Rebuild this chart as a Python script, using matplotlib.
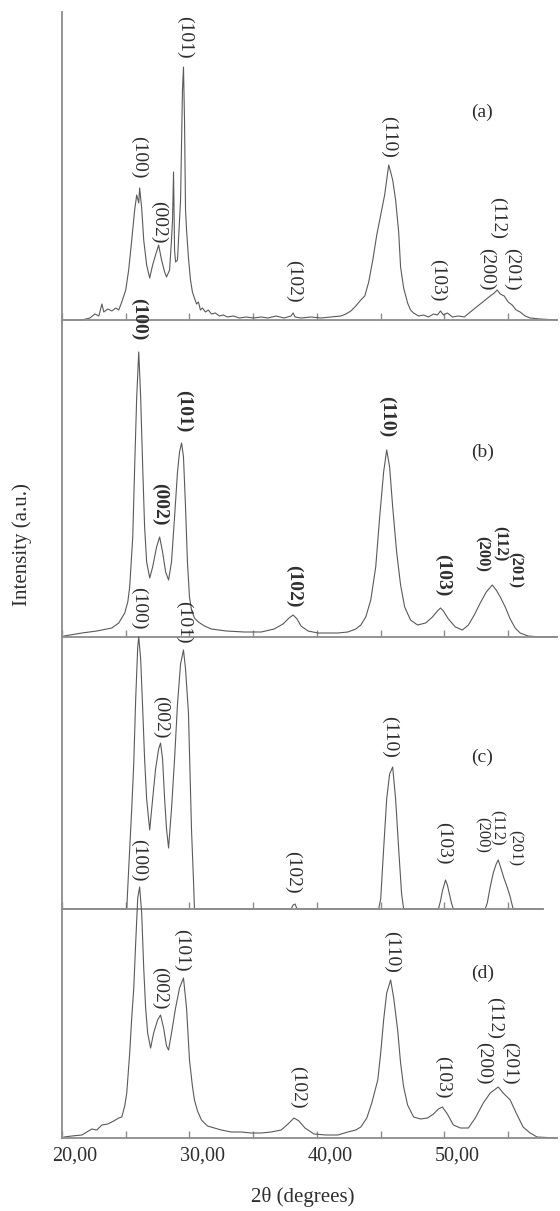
import matplotlib
matplotlib.use('Agg')
import matplotlib.pyplot as plt
import matplotlib.transforms as mtrans
from matplotlib.ticker import MultipleLocator, FuncFormatter

plt.rcParams['font.family'] = ['Liberation Serif', 'DejaVu Serif']

# 2theta (degrees) and intensity (a.u.)
a_tt = [20.16, 21.56, 22.19, 22.58, 22.89, 23.13, 23.28, 23.59, 23.91, 24.22, 24.45, 24.69,
        25.00, 25.23, 25.47, 25.70, 25.86, 26.02, 26.09, 26.25, 26.41, 26.64, 26.88, 27.11,
        27.34, 27.58, 27.81, 28.05, 28.20, 28.44, 28.59, 28.67, 28.75, 28.83, 28.91, 29.06,
        29.30, 29.45, 29.53, 29.61, 29.69, 29.77, 29.92, 30.08, 30.23, 30.39, 30.55, 30.70,
        30.86, 31.02, 31.25, 31.48, 31.72, 32.03, 32.34, 32.66, 32.97, 33.44, 33.91, 34.45,
        35.00, 35.63, 36.17, 36.80, 37.42, 37.97, 38.13, 38.28, 38.75, 39.53, 40.31, 41.09,
        41.88, 42.27, 42.66, 43.05, 43.44, 43.75, 44.06, 44.38, 44.69, 45.00, 45.31, 45.47,
        45.63, 45.78, 45.94, 46.17, 46.41, 46.56, 46.80, 47.11, 47.34, 47.58, 47.97, 48.36,
        48.75, 49.14, 49.45, 49.69, 49.92, 50.23, 50.63, 51.09, 51.56, 52.03, 52.42, 52.81,
        53.20, 53.59, 53.91, 54.14, 54.38, 54.69, 55.00, 55.31, 55.63, 55.94, 56.33, 56.72,
        57.50, 58.83]
a_int = [0, 0, 2, 6, 4, 16, 8, 11, 9, 12, 10, 18,
         30, 50, 80, 110, 125, 117, 132, 112, 80, 55, 42, 55,
         65, 75, 60, 48, 43, 50, 80, 100, 148, 70, 58, 60,
         120, 230, 253, 200, 110, 90, 62, 40, 28, 22, 16, 18,
         10, 12, 8, 10, 6, 7, 4, 5, 3, 4, 2, 3,
         2, 3, 2, 4, 2, 4, 7, 3, 2, 3, 2, 3,
         4, 6, 9, 14, 20, 24, 38, 60, 85, 105, 125, 140,
         155, 148, 140, 120, 88, 53, 32, 17, 10, 7, 4, 5,
         3, 6, 5, 9, 5, 7, 3, 4, 3, 8, 12, 16,
         20, 24, 27, 30, 26, 24, 18, 15, 10, 8, 4, 2,
         1, 0]

b_tt = [20.16, 21.56, 22.73, 23.91, 24.45, 24.92, 25.16, 25.31, 25.55, 25.70, 25.86, 26.02,
        26.17, 26.33, 26.48, 26.64, 26.88, 27.11, 27.42, 27.66, 27.89, 28.13, 28.36, 28.59,
        28.83, 29.06, 29.22, 29.38, 29.53, 29.69, 29.84, 30.00, 30.16, 30.39, 30.70, 31.17,
        31.72, 32.89, 34.30, 35.63, 36.64, 37.34, 37.81, 38.13, 38.44, 38.75, 39.30, 40.08,
        40.86, 41.64, 42.42, 43.05, 43.44, 43.83, 44.22, 44.61, 44.92, 45.23, 45.47, 45.70,
        45.94, 46.25, 46.56, 46.88, 47.34, 47.89, 48.52, 49.06, 49.45, 49.69, 49.92, 50.31,
        50.86, 51.41, 51.88, 52.34, 52.81, 53.28, 53.75, 54.06, 54.38, 54.77, 55.16, 55.55,
        55.94, 56.56, 57.50, 58.83]
b_int = [1, 4, 6, 9, 14, 24, 35, 50, 100, 170, 240, 285,
         240, 170, 110, 75, 59, 70, 90, 100, 85, 65, 57, 75,
         120, 165, 185, 194, 180, 130, 75, 40, 27, 19, 15, 11,
         8, 6, 5, 5, 8, 13, 19, 22, 18, 11, 6, 4,
         4, 4, 5, 8, 12, 20, 37, 70, 120, 165, 187, 170,
         130, 85, 52, 30, 17, 12, 14, 20, 26, 29, 26, 18,
         10, 7, 12, 22, 34, 45, 52, 47, 40, 30, 18, 9,
         4, 1, 0, 0]

c_tt = [20.16, 25.08, 25.23, 25.47, 25.63, 25.78, 25.94, 26.02, 26.17, 26.33, 26.48, 26.64,
        26.88, 27.11, 27.34, 27.58, 27.73, 27.89, 28.05, 28.20, 28.36, 28.59, 28.83, 29.06,
        29.30, 29.53, 29.69, 29.92, 30.16, 30.31, 30.39, 37.97, 38.13, 38.28, 38.44, 44.84,
        45.00, 45.23, 45.47, 45.70, 45.94, 46.17, 46.41, 46.64, 46.80, 49.53, 49.69, 49.84,
        50.00, 50.08, 50.23, 50.39, 50.55, 50.70, 53.20, 53.36, 53.59, 53.83, 54.06, 54.22,
        54.45, 54.69, 54.92, 55.16, 55.39, 57.73]
c_int = [0, 0, 40, 100, 146, 210, 262, 272, 250, 200, 150, 110,
         79, 110, 140, 160, 166, 150, 110, 80, 61, 100, 150, 205,
         245, 259, 240, 196, 79, 30, 0, 0, 4, 5, 0, 0,
         10, 60, 110, 135, 142, 110, 60, 15, 0, 0, 8, 18,
         25, 29, 24, 15, 6, 0, 0, 6, 22, 36, 45, 49,
         40, 30, 22, 12, 0, 0]

d_tt = [20.16, 20.78, 21.56, 22.34, 22.73, 23.13, 23.59, 24.06, 24.45, 24.69, 24.92, 25.08,
        25.31, 25.47, 25.63, 25.78, 25.94, 26.09, 26.25, 26.41, 26.56, 26.72, 26.95, 27.19,
        27.50, 27.73, 27.97, 28.20, 28.36, 28.59, 28.91, 29.22, 29.53, 29.77, 30.00, 30.23,
        30.39, 30.63, 30.94, 31.41, 31.95, 32.50, 33.28, 34.06, 34.84, 35.63, 36.41, 37.19,
        37.73, 38.20, 38.59, 39.06, 39.77, 40.70, 41.64, 42.42, 43.05, 43.44, 43.91, 44.30,
        44.77, 45.00, 45.23, 45.47, 45.78, 46.02, 46.33, 46.56, 46.80, 47.11, 47.58, 48.13,
        48.67, 49.14, 49.53, 49.84, 50.23, 50.70, 51.25, 51.88, 52.42, 53.05, 53.59, 54.22,
        54.61, 55.16, 55.63, 56.17, 56.72, 57.27, 58.83]
d_int = [1, 2, 3, 9, 8, 13, 14, 17, 20, 21, 32, 45,
         85, 120, 150, 195, 240, 251, 225, 170, 130, 105, 90, 105,
         118, 123, 110, 92, 88, 105, 130, 150, 160, 130, 78, 52,
         38, 27, 18, 12, 10, 8, 6, 6, 5, 5, 6, 8,
         14, 20, 17, 10, 4, 3, 3, 6, 8, 11, 20, 35,
         58, 85, 118, 145, 158, 140, 108, 75, 51, 33, 21, 19,
         20, 24, 29, 31, 24, 13, 10, 10, 20, 35, 45, 51,
         45, 38, 25, 11, 5, 1, 0]

hkl = ['(100)', '(002)', '(101)', '(102)', '(110)', '(103)', '(200)', '(112)', '(201)']
a_lab_x = [26.02, 27.58, 29.61, 38.20, 45.63, 49.45, 53.36, 54.22, 55.31]
a_lab_y = [163, 98, 283, 39, 183, 40, 51, 102, 51]
b_lab_x = [26.02, 27.66, 29.53, 38.20, 45.47, 49.84, 52.90, 54.38, 55.50]
b_lab_y = [318, 133, 226, 51, 220, 62, 83, 93, 67]
c_lab_x = [26.02, 27.73, 29.53, 38.13, 45.70, 49.92, 52.95, 54.14, 55.55]
c_lab_y = [301, 192, 287, 37, 172, 66, 74, 81, 61]
d_lab_x = [26.02, 27.66, 29.38, 38.52, 45.86, 49.84, 53.05, 53.98, 55.16]
d_lab_y = [278, 150, 188, 51, 186, 61, 75, 120, 75]

tags = ['(a)', '(b)', '(c)', '(d)']
tag_x = 52.97
tag_y = [208, 185, 152, 165]

# panel heights in the same units as the intensities
heights = [308, 317, 272, 229]

W, H = 560, 1211
fig = plt.figure(figsize=(W / 100, H / 100), dpi=100)

line_col = '#5a5a5a'
spine_col = '#8c8c8c'
text_col = '#2e2e2e'

curves = [(a_tt, a_int), (b_tt, b_int), (c_tt, c_int), (d_tt, d_int)]
labels = [(a_lab_x, a_lab_y), (b_lab_x, b_lab_y), (c_lab_x, c_lab_y), (d_lab_x, d_lab_y)]

top = H - 12
axes = []
for i in range(4):
    bottom = top - heights[i]
    ax = fig.add_axes([62 / W, bottom / H, 495 / W, heights[i] / H])
    ax.set_facecolor('none')
    ax.set_xlim(20, 58.83)
    ax.set_ylim(0, heights[i])
    ax.plot(curves[i][0], curves[i][1], color=line_col, lw=0.8, clip_on=False)
    for sp in ['top', 'right']:
        ax.spines[sp].set_visible(False)
    for sp in ['left', 'bottom']:
        ax.spines[sp].set_color(spine_col)
        ax.spines[sp].set_linewidth(1.3)
    ax.set_yticks([])
    ax.xaxis.set_major_locator(MultipleLocator(10))
    ax.xaxis.set_minor_locator(MultipleLocator(5))
    ax.tick_params(axis='x', which='both', direction='in', length=5, width=1,
                   color=spine_col, labelbottom=(i == 3))
    fw = 'bold' if i == 1 else 'normal'
    for k, (t, x, y) in enumerate(zip(hkl, labels[i][0], labels[i][1])):
        fs = 14
        if k >= 6 and i in (1, 2):
            fs = 12  # the crowded (200)/(112)/(201) group
        ax.text(x, y, t, rotation=270, ha='center', va='center', fontsize=fs,
                color=text_col, fontweight=fw)
    ax.text(tag_x, tag_y[i], tags[i], ha='center', va='center', fontsize=14, color=text_col)
    axes.append(ax)
    top = bottom

axes[2].spines['bottom'].set_bounds(20, 57.73)

axd = axes[3]
axd.xaxis.set_major_formatter(FuncFormatter(lambda v, p: f'{v:.2f}'.replace('.', ',')))
axd.tick_params(axis='x', which='major', labelsize=14.5, labelcolor=text_col, pad=6)
shift = mtrans.ScaledTranslation(13 / 100, 0, fig.dpi_scale_trans)
for lab in axd.get_xticklabels():
    lab.set_transform(lab.get_transform() + shift)

fig.text(22 / W, 1 - 545 / H, 'Intensity (a.u.)', rotation=90, ha='center', va='center',
         fontsize=15, color=text_col)
fig.text(303 / W, 1 - 1197 / H, '2θ (degrees)', ha='center', va='center',
         fontsize=15, color=text_col)

fig.savefig('out.png', dpi=100)
